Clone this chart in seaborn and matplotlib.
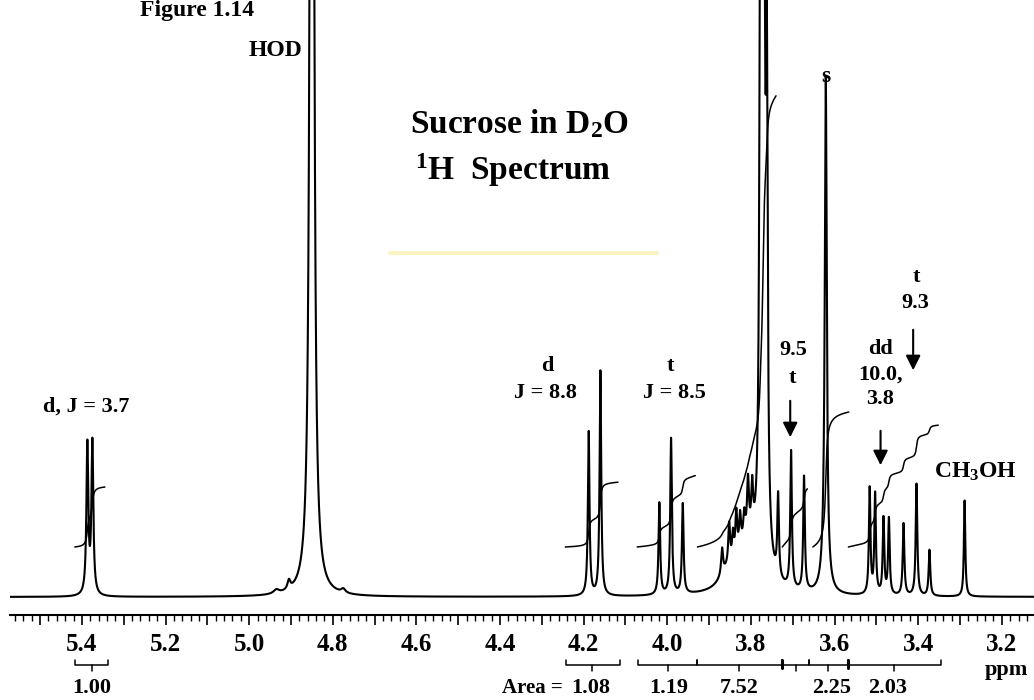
import numpy as np
import seaborn as sns
import matplotlib.pyplot as plt

# peak list: shift (ppm), height (px above baseline), half width (ppm)
shifts = [5.387, 5.375,
          4.935, 4.905, 4.850, 4.775,
          4.188, 4.160,
          4.019, 3.991, 3.963,
          3.869, 3.852, 3.843, 3.835, 3.826, 3.816, 3.807, 3.797,
          3.810, 3.860,
          3.778, 3.771, 3.762,
          3.735, 3.704, 3.673,
          3.623, 3.621,
          3.516, 3.503, 3.483, 3.470,
          3.435, 3.404, 3.373,
          3.289]
heights = [150, 152,
           4, 9, 3000, 4,
           164, 225,
           92, 156, 90,
           26, 42, 28, 45, 34, 25, 55, 48,
           45, 12,
           430, 1400, 420,
           82, 137, 114,
           30, 490,
           106, 100, 76, 76,
           72, 112, 46,
           96]
widths = [0.0027, 0.0027,
          0.008, 0.004, 0.0030, 0.006,
          0.0023, 0.0023,
          0.0023, 0.0023, 0.0023,
          0.0027, 0.0027, 0.0027, 0.0027, 0.0027, 0.0027, 0.0027, 0.0027,
          0.030, 0.020,
          0.0024, 0.0032, 0.0024,
          0.0023, 0.0023, 0.0023,
          0.008, 0.0028,
          0.0022, 0.0022, 0.0022, 0.0022,
          0.0023, 0.0023, 0.0023,
          0.0020]

# integral regions (ppm from, ppm to) and areas
int_ranges = [(5.417, 5.345), (4.244, 4.118), (4.072, 3.933), (3.928, 3.740),
              (3.725, 3.665), (3.652, 3.566), (3.567, 3.352)]
int_areas = [1.00, 1.08, 1.19, 7.52, 0.97, 2.25, 2.03]

# integral brackets below the axis: (left, right, middle) and labels
brackets = [(5.417, 5.338, 5.376), (4.242, 4.113, 4.180), (4.070, 3.929, 3.998),
            (3.929, 3.725, 3.828), (3.725, 3.661, 3.692), (3.661, 3.567, 3.615),
            (3.567, 3.345, 3.457)]
area_labels = ['1.00', '1.08', '1.19', '7.52', '2.25', '2.03']
area_label_pos = [5.376, 4.182, 3.996, 3.828, 3.608, 3.472]

ppm = np.linspace(5.575, 3.12, 24000)
spec = np.zeros_like(ppm)
for c, h, g in zip(shifts, heights, widths):
    spec += h / (1 + ((ppm - c) / g) ** 2)

sns.set_theme(style='white')
plt.rcParams['font.family'] = ['Liberation Serif', 'DejaVu Serif']
plt.rcParams['font.weight'] = 'bold'
plt.rcParams['text.color'] = 'black'
plt.rcParams['xtick.color'] = 'black'
plt.rcParams['xtick.labelcolor'] = 'black'
plt.rcParams['mathtext.fontset'] = 'custom'
plt.rcParams['mathtext.rm'] = 'Liberation Serif:bold'
plt.rcParams['mathtext.bf'] = 'Liberation Serif:bold'
plt.rcParams['mathtext.it'] = 'Liberation Serif:bold'

fig = plt.figure(figsize=(10.34, 7), dpi=100)
ax = fig.add_axes([10 / 1034, 85 / 700, 1024 / 1034, 615 / 700])

sns.lineplot(x=ppm, y=spec, estimator=None, sort=False, color='black', lw=1.5, ax=ax)

# integral traces
unit, start = 60, 50
for (a, b), area in zip(int_ranges, int_areas):
    m = (ppm <= a) & (ppm >= b)
    cum = np.cumsum(spec[m])
    cum = cum / cum[-1] * area * unit + start
    ax.plot(ppm[m], cum, color='black', lw=1.1)

ax.set_xlim(5.572, 3.123)
ax.set_ylim(-18, 597)
for s in ['top', 'left', 'right']:
    ax.spines[s].set_visible(False)
ax.spines['bottom'].set_color('black')
ax.spines['bottom'].set_linewidth(1.5)
ax.set_yticks([])

major = np.round(np.arange(3.2, 5.55, 0.1), 1)
ax.set_xticks(major)
ax.set_xticklabels([f'{v:.1f}' if round(v * 10) % 2 == 0 else '' for v in major])
ax.set_xticks(np.round(np.arange(3.14, 5.57, 0.02), 2), minor=True)
ax.tick_params(axis='x', which='major', direction='out', length=7, width=1.2,
               color='black', labelcolor='black', labelsize=18, pad=6, bottom=True)
ax.tick_params(axis='x', which='minor', direction='out', length=4, width=1.0,
               color='black', bottom=True)
ax.set_xlabel('')

# brackets
by = -68
for l, r, mid in brackets:
    ax.plot([l, l, r, r], [by + 5, by, by, by + 5], color='black', lw=1.1, clip_on=False)
    ax.plot([mid, mid], [by, by - 6], color='black', lw=1.1, clip_on=False)
for j in [3.725, 3.567]:
    ax.plot([j, j], [by + 5, by - 3], color='black', lw=2.2, clip_on=False)
for lab, x in zip(area_labels, area_label_pos):
    ax.text(x, -91, lab, ha='center', va='center', fontsize=16, clip_on=False)
ax.text(4.250, -91, 'Area =', ha='right', va='center', fontsize=15, clip_on=False)
ax.text(3.190, -73, 'ppm', ha='center', va='center', fontsize=16, clip_on=False)

# annotations
ax.text(4.938, 547, 'HOD', ha='center', va='center', fontsize=17)
ax.text(5.390, 190, 'd, J = 3.7', ha='center', va='center', fontsize=16)
ax.text(4.288, 231, 'd', ha='center', va='center', fontsize=16)
ax.text(4.292, 204, 'J = 8.8', ha='center', va='center', fontsize=16)
ax.text(3.993, 231, 't', ha='center', va='center', fontsize=16)
ax.text(3.983, 204, 'J = 8.5', ha='center', va='center', fontsize=16)
ax.text(3.699, 247, '9.5', ha='center', va='center', fontsize=16)
ax.text(3.702, 219, 't', ha='center', va='center', fontsize=16)
ax.text(3.620, 520, 's', ha='center', va='center', fontsize=17)
ax.text(3.405, 320, 't', ha='center', va='center', fontsize=16)
ax.text(3.408, 294, '9.3', ha='center', va='center', fontsize=16)
ax.text(3.490, 248, 'dd', ha='center', va='center', fontsize=16)
ax.text(3.490, 222, '10.0,', ha='center', va='center', fontsize=16)
ax.text(3.490, 198, '3.8', ha='center', va='center', fontsize=16)
ax.text(3.264, 125, r'CH$_3$OH', ha='center', va='center', fontsize=17)

arrow = dict(arrowstyle='-|>', color='black', lw=1.5, mutation_scale=22)
ax.annotate('', xy=(3.706, 157), xytext=(3.706, 199), arrowprops=arrow)
ax.annotate('', xy=(3.412, 224), xytext=(3.412, 270), arrowprops=arrow)
ax.annotate('', xy=(3.490, 129), xytext=(3.490, 169), arrowprops=arrow)

# title block
ax.text(4.615, 464, r'Sucrose in D$_2$O', ha='left', va='baseline', fontsize=24)
ax.text(4.603, 417, r'$^1$H  Spectrum', ha='left', va='baseline', fontsize=24)
ax.plot([4.663, 4.024], [344, 344], color='#fbf3c4', lw=3)

fig.text(140 / 1034, 1 - 16 / 700, 'Figure 1.14', ha='left', va='baseline', fontsize=17)

fig.savefig('out.png', dpi=100)
